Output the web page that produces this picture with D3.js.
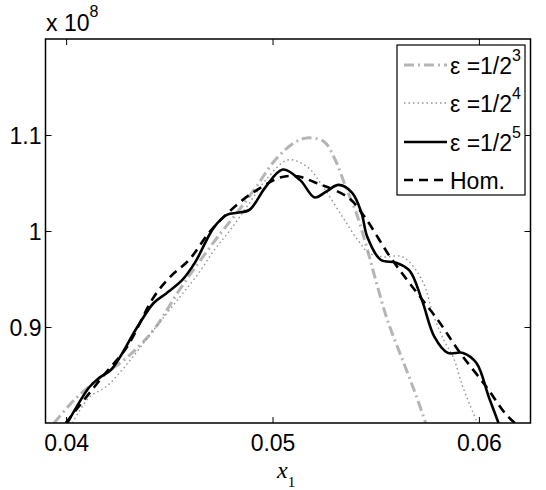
<!DOCTYPE html>
<html lang="en">
<head>
    <meta charset="UTF-8">
    <title>profiles along x1</title>
    <script src="https://d3js.org/d3.v7.min.js"></script>
    <style>
        body { margin: 0; background: #fff; }
        svg { display: block; }
        .tick-label { font: 23px "Liberation Sans", Arial, sans-serif; fill: #000; }
        .legend text { font: 23px "Liberation Sans", Arial, sans-serif; fill: #000; }
        .frame { fill: none; stroke: #000; stroke-width: 1.5px; }
        .curve { fill: none; }
    </style>
</head>
<body>
<script>
    // x1 positions and values (in units of 1e8)
    const eps3_x = [0.03942, 0.04039, 0.04169, 0.04299, 0.04424, 0.04550, 0.04642, 0.04735, 0.04828, 0.04921,
        0.05013, 0.05106, 0.05167, 0.05250, 0.05302, 0.05358, 0.05404, 0.05450, 0.05496, 0.05557, 0.05635, 0.05695, 0.05742];
    const eps3_y = [0.800, 0.824, 0.848, 0.869, 0.897, 0.939, 0.967, 0.994, 1.019, 1.046,
        1.074, 1.092, 1.097, 1.093, 1.075, 1.044, 1.020, 0.988, 0.952, 0.907, 0.863, 0.829, 0.800];

    const eps4_x = [0.04030, 0.04113, 0.04192, 0.04299, 0.04424, 0.04550, 0.04642, 0.04717, 0.04795, 0.04888,
        0.04967, 0.05074, 0.05167, 0.05245, 0.05338, 0.05412, 0.05468, 0.05538, 0.05631, 0.05724,
        0.05780, 0.05831, 0.05877, 0.05918, 0.05956, 0.05993];
    const eps4_y = [0.800, 0.827, 0.8375, 0.8625, 0.897, 0.931, 0.956, 0.980, 1.001, 1.029,
        1.053, 1.074, 1.067, 1.046, 1.015, 0.991, 0.977, 0.973, 0.973, 0.949,
        0.912, 0.886, 0.868, 0.840, 0.819, 0.800];

    const eps5_x = [0.04006, 0.04113, 0.04160, 0.04220, 0.04345, 0.04424, 0.04485, 0.04563, 0.04624, 0.04717,
        0.04781, 0.04828, 0.04888, 0.04967, 0.05050, 0.05134, 0.05204, 0.05260, 0.05320, 0.05385,
        0.05431, 0.05459, 0.05524, 0.05598, 0.05663, 0.05724, 0.05784, 0.05849, 0.05923, 0.05988,
        0.06048, 0.06095];
    const eps5_y = [0.800, 0.8375, 0.847, 0.856, 0.900, 0.925, 0.935, 0.949, 0.967, 1.004,
        1.017, 1.019, 1.022, 1.046, 1.064, 1.053, 1.035, 1.041, 1.048, 1.040,
        1.019, 0.994, 0.970, 0.967, 0.959, 0.928, 0.890, 0.873, 0.873, 0.8625,
        0.827, 0.800];

    const hom_x = [0.03998, 0.04183, 0.04294, 0.04424, 0.04503, 0.04596, 0.04703, 0.04842, 0.04949, 0.05041,
        0.05120, 0.05213, 0.05366, 0.05445, 0.05570, 0.05677, 0.05802, 0.05909, 0.06035, 0.06127, 0.06174];
    const hom_y = [0.800, 0.850, 0.879, 0.931, 0.952, 0.970, 1.001, 1.030, 1.046, 1.056,
        1.057, 1.050, 1.035, 1.015, 0.973, 0.942, 0.907, 0.873, 0.838, 0.810, 0.800];

    const xTicks = [0.04, 0.05, 0.06];
    const xTickLabels = ["0.04", "0.05", "0.06"];
    const yTicks = [0.9, 1.0, 1.1];
    const yTickLabels = ["0.9", "1", "1.1"];
    const legendExp = ["3", "4", "5"];

    const W = 546, H = 490;
    const plot = {left: 45.5, right: 530.5, top: 39, bottom: 423};

    const x = d3.scaleLinear().domain([0.039, 0.0625]).range([plot.left, plot.right]);
    const y = d3.scaleLinear().domain([0.8, 1.2]).range([plot.bottom, plot.top]);

    const svg = d3.select("body").append("svg")
        .attr("width", W)
        .attr("height", H);

    svg.append("defs").append("clipPath")
        .attr("id", "clip")
        .append("rect")
        .attr("x", plot.left)
        .attr("y", plot.top)
        .attr("width", plot.right - plot.left)
        .attr("height", plot.bottom - plot.top);

    const series = [
        {xs: eps3_x, ys: eps3_y, color: "#b5b5b5", width: 3, dash: "10,4,2,4"},
        {xs: eps4_x, ys: eps4_y, color: "#939393", width: 1.4, dash: "1.5,3"},
        {xs: eps5_x, ys: eps5_y, color: "#000", width: 2.6, dash: null},
        {xs: hom_x, ys: hom_y, color: "#000", width: 2.6, dash: "9,6"}
    ];

    const line = d3.line()
        .x(d => x(d[0]))
        .y(d => y(d[1]))
        .curve(d3.curveCatmullRom.alpha(0.5));

    const curves = svg.append("g").attr("clip-path", "url(#clip)");
    series.forEach(s => {
        curves.append("path")
            .attr("class", "curve")
            .attr("d", line(d3.zip(s.xs, s.ys)))
            .attr("stroke", s.color)
            .attr("stroke-width", s.width)
            .attr("stroke-dasharray", s.dash);
    });

    // axes: ticks point inward on all four sides, labels on bottom and left
    const bottomAxis = d3.axisBottom(x).tickValues(xTicks).tickSize(-6).tickFormat((d, i) => xTickLabels[i]);
    const topAxis = d3.axisTop(x).tickValues(xTicks).tickSize(-6).tickFormat("");
    const leftAxis = d3.axisLeft(y).tickValues(yTicks).tickSize(-6).tickFormat((d, i) => yTickLabels[i]);
    const rightAxis = d3.axisRight(y).tickValues(yTicks).tickSize(-6).tickFormat("");

    function styleAxis(g) {
        g.select(".domain").remove();
        g.selectAll(".tick line").attr("stroke", "#000").attr("stroke-width", 1);
        g.selectAll(".tick text").attr("class", "tick-label").attr("font-size", null).attr("font-family", null);
    }

    svg.append("g").attr("transform", `translate(0,${plot.bottom})`).call(bottomAxis).call(styleAxis)
        .selectAll(".tick text").attr("dy", null).attr("y", 28);
    svg.append("g").attr("transform", `translate(0,${plot.top})`).call(topAxis).call(styleAxis);
    svg.append("g").attr("transform", `translate(${plot.left},0)`).call(leftAxis).call(styleAxis)
        .selectAll(".tick text").attr("x", -4).attr("dy", "0.36em");
    svg.append("g").attr("transform", `translate(${plot.right},0)`).call(rightAxis).call(styleAxis);

    svg.append("rect")
        .attr("class", "frame")
        .attr("x", plot.left)
        .attr("y", plot.top)
        .attr("width", plot.right - plot.left)
        .attr("height", plot.bottom - plot.top);

    // multiplier
    const mult = svg.append("text").attr("class", "tick-label").attr("x", 46).attr("y", 31);
    mult.append("tspan").text("x 10");
    mult.append("tspan").attr("dy", -14).attr("font-size", 16).text("8");

    // x label
    const xl = svg.append("text")
        .attr("x", 277).attr("y", 478)
        .style("font", "italic 24px 'Liberation Serif', 'Times New Roman', serif");
    xl.append("tspan").text("x");
    xl.append("tspan").attr("dy", 9).attr("font-style", "normal").attr("font-size", 15).text("1");

    // legend
    const lg = svg.append("g").attr("class", "legend");
    lg.append("rect")
        .attr("x", 397).attr("y", 45)
        .attr("width", 128).attr("height", 150)
        .attr("fill", "#fff").attr("stroke", "#000").attr("stroke-width", 1.2);

    const rowsY = [65, 103, 142, 180];
    series.forEach((s, i) => {
        const ry = rowsY[i];
        lg.append("line")
            .attr("x1", 404).attr("x2", 447)
            .attr("y1", ry).attr("y2", ry)
            .attr("stroke", s.color)
            .attr("stroke-width", s.width)
            .attr("stroke-dasharray", s.dash);
        const t = lg.append("text").attr("x", 450).attr("y", ry + 9);
        if (i < 3) {
            t.append("tspan").text("ε =1/2");
            t.append("tspan").attr("dy", -13).attr("font-size", 16).text(legendExp[i]);
        } else {
            t.text("Hom.");
        }
    });
</script>
</body>
</html>
